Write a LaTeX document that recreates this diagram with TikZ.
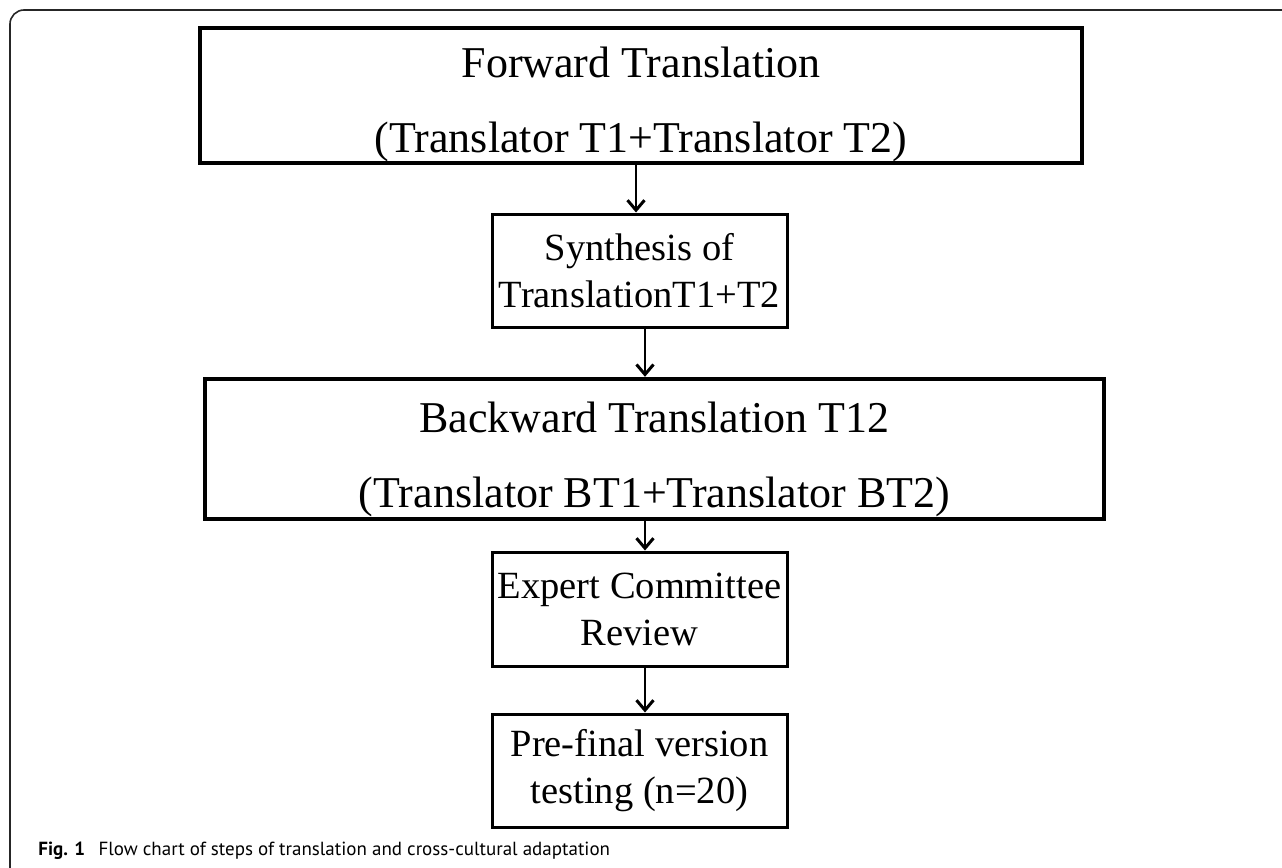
\documentclass[tikz,border=0pt]{standalone}
\usepackage{fontspec}
\setmainfont{Liberation Serif}
\newfontfamily\capfont{PT Sans}
\usetikzlibrary{positioning,arrows.meta}
\newcommand\tightskip{\lineskiplimit=-30pt\relax}

\begin{document}
\begin{tikzpicture}[
  x=0.5pt, y=-0.5pt,
  bigbox/.style={draw, line width=2.2pt, align=center, inner sep=0pt,
    font=\fontsize{22}{37.5}\selectfont\tightskip},
  smallbox/.style={draw, line width=1.5pt, align=center, inner sep=0pt,
    minimum width=147.5pt, minimum height=56.5pt,
    font=\fontsize{19.25}{23.5}\selectfont},
  flow/.style={line width=1.3pt, -{Straight Barb[length=5pt,width=8.5pt,line width=1.5pt]}},
]
\useasboundingbox (0,0) rectangle (1282,868);
% outer frame
\draw[line width=0.8pt, black!85, rounded corners=7pt] (1282,10) -- (10,10) -- (10,868);

\node[bigbox, minimum width=441pt, minimum height=67.5pt] (fwd) at (641,95.5)
  {\rule{0pt}{24pt}Forward Translation\\(Translator T1+Translator T2)};
\node[smallbox] (syn) at (639.5,270.5) {Synthesis of\\TranslationT1+T2};
\node[bigbox, minimum width=449.5pt, minimum height=70pt] (back) at (654.5,449)
  {\rule{0pt}{25.5pt}Backward Translation T12\\(Translator BT1+Translator BT2)};
\node[smallbox, minimum height=57pt] (exp) at (639.5,609) {Expert Committee\\Review};
\node[smallbox] (pre) at (639.5,770.5) {Pre-final version\\testing (n=20)};

\draw[flow] ([xshift=-2.5pt]fwd.south) -- ([xshift=-2.5pt]fwd.south |- syn.north);
\draw[flow] ([xshift=2.75pt]syn.south) -- ([xshift=2.75pt]syn.south |- back.north);
\draw[flow] ([xshift=2.75pt]exp.north |- back.south) -- ([xshift=2.75pt]exp.north);
\draw[flow] ([xshift=2.75pt]exp.south) -- ([xshift=2.75pt]pre.north);

\node[anchor=base west, inner sep=0pt, font=\capfont\fontsize{9.5}{12}\selectfont] (cap) at (38,855)
  {\textbf{Fig. 1}\hspace{0.7em}Flow chart of steps of translation and cross-cultural adaptation};
\end{tikzpicture}
\end{document}
